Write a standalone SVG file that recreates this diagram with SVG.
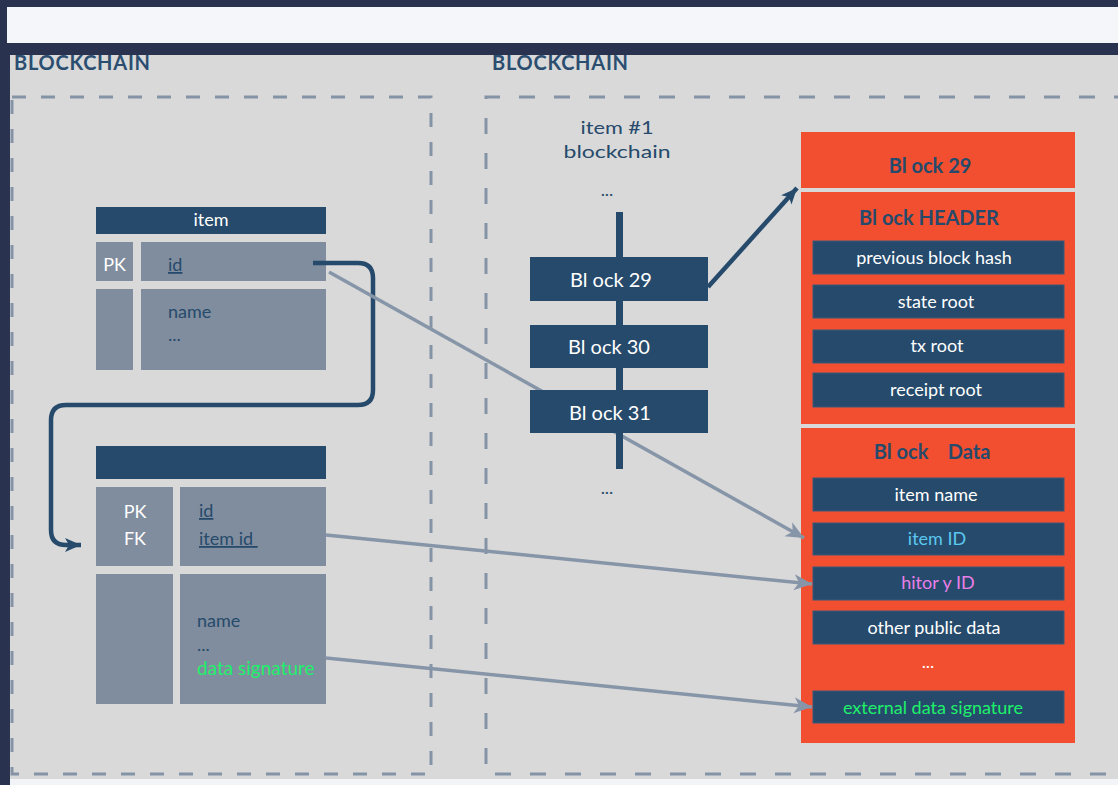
<svg xmlns="http://www.w3.org/2000/svg" width="1118" height="785" viewBox="0 0 1118 785">
  <style>
    text { font-family: Lato, "Open Sans", "Liberation Sans", sans-serif; }
    .title { font-size: 20px; font-weight: 700; fill: #2a4d70; }
    .hdr { fill: #264a6b; }
    .cell { fill: #808d9e; }
    .wt { fill: #ffffff; font-size: 18px; }
    .nt { fill: #264a6b; font-size: 18px; }
    .ul { text-decoration: underline; }
    .blk { fill: #264a6b; }
    .bt { fill: #ffffff; font-size: 20px; text-anchor: middle; }
    .org { fill: #f24f30; }
    .ot { fill: #264a6b; font-size: 20px; font-weight: 700; text-anchor: middle; }
    .row { fill: #264a6b; stroke: #3d5878; stroke-width: 1; }
    .rt { fill: #ffffff; font-size: 18px; text-anchor: middle; }
    .dashL { fill: none; stroke: #8593a6; stroke-width: 3; stroke-dasharray: 14 15; }
    .dashR { fill: none; stroke: #8593a6; stroke-width: 3; stroke-dasharray: 16 19; }
    .gl { fill: none; stroke: #8795a8; stroke-width: 3.5; }
    .dl { fill: none; stroke: #264a6b; stroke-width: 4.5; }
  </style>
  <defs>
    <marker id="ga" markerUnits="userSpaceOnUse" markerWidth="20" markerHeight="18" refX="18" refY="8" orient="auto" viewBox="0 0 20 18">
      <path d="M0,0 L18,8 L0,16 L5,8 z" fill="#8795a8"/>
    </marker>
    <marker id="da" markerUnits="userSpaceOnUse" markerWidth="18" markerHeight="16" refX="16" refY="7" orient="auto" viewBox="0 0 18 16">
      <path d="M0,0 L16,7 L0,14 L4,7 z" fill="#264a6b"/>
    </marker>
  </defs>

  <!-- background -->
  <rect x="0" y="0" width="1118" height="785" fill="#29334f"/>
  <rect x="7" y="7" width="1111" height="36" fill="#f4f6fa"/>
  <rect x="10" y="55" width="1108" height="724" fill="#d9d9d9"/>
  <rect x="10" y="779" width="1108" height="6" fill="#f2f4f7"/>

  <text class="title" x="14" y="70" textLength="136" lengthAdjust="spacing">BLOCKCHAIN</text>
  <text class="title" x="492" y="70" textLength="136" lengthAdjust="spacing">BLOCKCHAIN</text>

  <rect class="dashL" x="12" y="97" width="419" height="677"/>
  <path class="dashR" d="M1130,97 H486 V774 H1130"/>

  <!-- item table -->
  <g id="item-table">
    <rect class="hdr" x="96" y="207" width="230" height="27"/>
    <text class="wt" x="211" y="226" text-anchor="middle">item</text>
    <rect class="cell" x="96" y="242" width="37" height="39"/>
    <text class="wt" x="114.5" y="271" text-anchor="middle" font-size="19">PK</text>
    <rect class="cell" x="141" y="242" width="185" height="39"/>
    <text class="nt ul" x="168" y="271">id</text>
    <rect class="cell" x="96" y="289" width="37" height="81"/>
    <rect class="cell" x="141" y="289" width="185" height="81"/>
    <text class="nt" x="168" y="318">name</text>
    <text class="nt" x="168" y="341">...</text>
  </g>

  <!-- history table -->
  <g id="history-table">
    <rect class="hdr" x="96" y="446" width="230" height="33"/>
    <rect class="cell" x="96" y="487" width="77" height="79"/>
    <text class="wt" x="135" y="518" text-anchor="middle" font-size="20">PK</text>
    <text class="wt" x="135" y="545" text-anchor="middle" font-size="20">FK</text>
    <rect class="cell" x="180" y="487" width="146" height="79"/>
    <text class="nt ul" x="199" y="517">id</text>
    <text class="nt ul" x="199" y="545" xml:space="preserve">item id </text>
    <rect class="cell" x="96" y="574" width="77" height="130"/>
    <rect class="cell" x="180" y="574" width="146" height="130"/>
    <text class="nt" x="197" y="627">name</text>
    <text class="nt" x="197" y="651">...</text>
    <text x="197" y="675" font-size="19" fill="#1ef06a">data signature</text>
  </g>

  <!-- block detail -->
  <g id="block-detail">
    <rect class="org" x="801" y="132" width="274" height="56"/>
    <text class="ot" x="930" y="173" xml:space="preserve">Bl ock 29</text>
    <rect class="org" x="801" y="192" width="274" height="232"/>
    <text class="ot" x="929" y="225" xml:space="preserve">Bl ock HEADER</text>
    <rect class="row" x="813" y="241" width="251" height="33"/>
    <text class="rt" x="934" y="264">previous block hash</text>
    <rect class="row" x="813" y="285" width="251" height="33"/>
    <text class="rt" x="936" y="308">state root</text>
    <rect class="row" x="813" y="330" width="251" height="33"/>
    <text class="rt" x="937" y="352">tx root</text>
    <rect class="row" x="813" y="373" width="251" height="34"/>
    <text class="rt" x="936" y="396">receipt root</text>

    <rect class="org" x="801" y="428" width="274" height="315"/>
    <text class="ot" x="932" y="459" xml:space="preserve">Bl ock    Data</text>
    <rect class="row" x="813" y="478" width="251" height="33"/>
    <text class="rt" x="936" y="501">item name</text>
    <rect class="row" x="813" y="523" width="251" height="32"/>
    <text class="rt" x="937" y="545" style="fill:#5bc8f0">item ID</text>
    <rect class="row" x="813" y="567" width="251" height="33"/>
    <text class="rt" x="938" y="589" style="fill:#e87fe8" xml:space="preserve">hitor y ID</text>
    <rect class="row" x="813" y="611" width="251" height="33"/>
    <text class="rt" x="934" y="634">other public data</text>
    <text class="rt" x="928" y="668">...</text>
    <rect class="row" x="813" y="691" width="251" height="32"/>
    <text class="rt" x="933" y="714" style="fill:#1ef06a">external data signature</text>
  </g>

  <!-- connectors -->
  <g id="connectors">
    <path class="dl" d="M313,263 H358 Q373,263 373,278 V390 Q373,405 358,405 H66 Q51,405 51,420 V530 Q51,545 66,545 H81" marker-end="url(#da)"/>
    <path class="gl" d="M329,272 L804,538" marker-end="url(#ga)"/>
    <path class="gl" d="M326,535 L812,584" marker-end="url(#ga)"/>
    <path class="gl" d="M326,658 L812,707" marker-end="url(#ga)"/>
    <path class="dl" d="M708,287 L797,188" stroke-width="5" marker-end="url(#da)"/>
  </g>

  <!-- chain -->
  <g id="chain">
    <text class="nt" x="617" y="134" text-anchor="middle" font-size="23" textLength="73" lengthAdjust="spacingAndGlyphs">item #1</text>
    <text class="nt" x="617" y="158" text-anchor="middle" font-size="23" textLength="107" lengthAdjust="spacingAndGlyphs">blockchain</text>
    <text class="nt" x="607" y="196" text-anchor="middle">...</text>
    <rect class="blk" x="616" y="212" width="7" height="257"/>
    <text class="nt" x="607" y="494" text-anchor="middle">...</text>
  </g>
  <g id="block29">
    <rect class="blk" x="530" y="257" width="178" height="44"/>
    <text class="bt" x="611" y="287" xml:space="preserve">Bl ock 29</text>
  </g>
  <g id="block30">
    <rect class="blk" x="530" y="325" width="178" height="43"/>
    <text class="bt" x="609" y="354" xml:space="preserve">Bl ock 30</text>
  </g>
  <g id="block31">
    <rect class="blk" x="530" y="390" width="178" height="43"/>
    <text class="bt" x="610" y="420" xml:space="preserve">Bl ock 31</text>
  </g>
</svg>
